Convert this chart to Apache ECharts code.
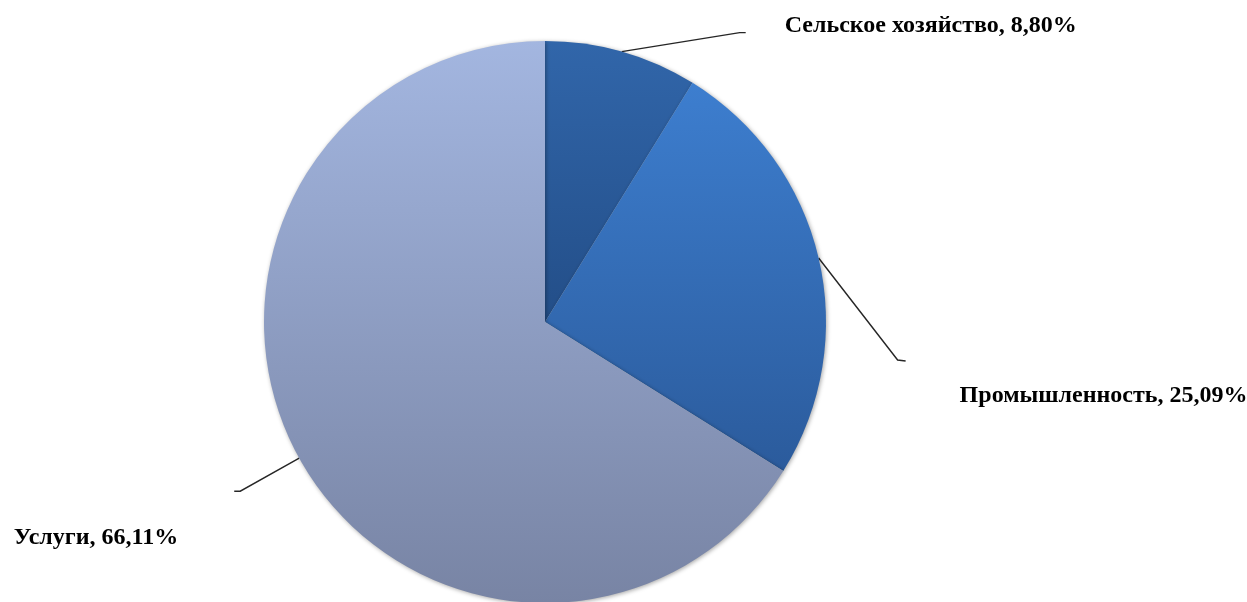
<!DOCTYPE html>
<html>
<head>
<meta charset="utf-8">
<script src="https://cdn.jsdelivr.net/npm/echarts@6/dist/echarts.min.js"></script>
<style>html,body{margin:0;padding:0;background:#fff;}#c{width:1247px;height:602px;}</style>
</head>
<body>
<div id="c"></div>
<script>
const categories = ['Сельское хозяйство', 'Промышленность', 'Услуги'];
const values = [8.80, 25.09, 66.11];
const valueLabels = ['8,80%', '25,09%', '66,11%'];

const gradients = [
  ['#3166AA', '#234E88'],
  ['#3D7ECF', '#2B5B9C'],
  ['#A3B6E0', '#7884A4']
];
// leader-line / label offsets relative to the library's edge anchor (style only)
const leader = [
  { mid: [118, -19], end: [124, -19], label: [163, -26], align: 'left' },
  { mid: [79, 102], end: [87, 103], label: [141, 138], align: 'left' },
  { mid: [-59, 33], end: [-65, 33], label: [-121, 80], align: 'right' }
];

const chart = echarts.init(document.getElementById('c'), null, { renderer: 'canvas' });
chart.setOption({
  animation: false,
  backgroundColor: '#ffffff',
  series: [{
    type: 'pie',
    center: [545, 322],
    radius: [0, 281],
    startAngle: 90,
    clockwise: true,
    avoidLabelOverlap: false,
    data: categories.map((name, i) => ({
      name: name,
      value: values[i],
      itemStyle: {
        color: new echarts.graphic.LinearGradient(0, 0, 0, 1, [
          { offset: 0, color: gradients[i][0] },
          { offset: 1, color: gradients[i][1] }
        ])
      }
    })),
    itemStyle: {
      borderWidth: 0,
      shadowBlur: 4,
      shadowColor: 'rgba(0,0,0,0.35)',
      shadowOffsetX: 1,
      shadowOffsetY: 1
    },
    label: {
      show: true,
      position: 'outside',
      formatter: p => p.name + ', ' + valueLabels[p.dataIndex],
      fontFamily: '"Liberation Serif", "Times New Roman", serif',
      fontWeight: 'bold',
      fontSize: 24,
      color: '#000000'
    },
    labelLine: {
      show: true,
      length: 20,
      length2: 10,
      lineStyle: { color: '#262626', width: 1.4 }
    },
    labelLayout: function (params) {
      const i = params.dataIndex;
      const pts = params.labelLinePoints;
      if (!pts || !pts.length) return {};
      const p0 = pts[0];
      const L = leader[i];
      return {
        x: p0[0] + L.label[0],
        y: p0[1] + L.label[1],
        align: L.align,
        verticalAlign: 'middle',
        labelLinePoints: [
          [p0[0], p0[1]],
          [p0[0] + L.mid[0], p0[1] + L.mid[1]],
          [p0[0] + L.end[0], p0[1] + L.end[1]]
        ]
      };
    }
  }]
});
</script>
</body>
</html>
